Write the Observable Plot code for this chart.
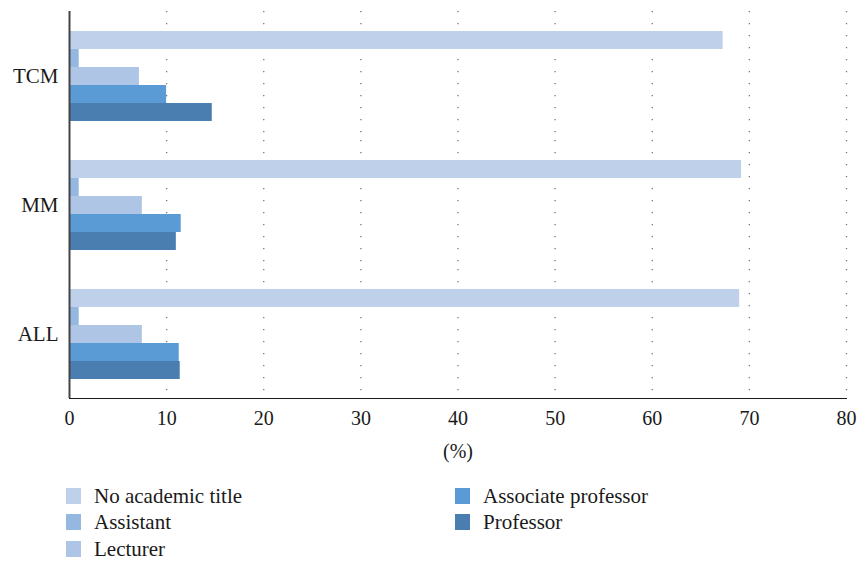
<!DOCTYPE html>
<html>
<head>
<meta charset="utf-8">
<script src="https://cdn.jsdelivr.net/npm/d3@7"></script>
<script src="https://cdn.jsdelivr.net/npm/@observablehq/plot@0.6"></script>
<style>
  html, body { margin: 0; padding: 0; background: #fff; }
  #wrap { position: relative; width: 857px; height: 562px; font-family: "Liberation Serif", "DejaVu Serif", serif; color: #1a1a1a; }
  .item { position: absolute; display: flex; align-items: center; font-size: 21px; white-space: nowrap; }
  .sw { width: 15px; height: 16px; margin-right: 13px; }
</style>
</head>
<body>
<div id="wrap"><div id="chart"></div><div id="legend"></div></div>
<script>
const groups = ["TCM", "MM", "ALL"];
const series = ["No academic title", "Assistant", "Lecturer", "Associate professor", "Professor"];
const colors = ["#BFD0EA", "#95B8E1", "#AEC5E6", "#5B9BD5", "#4A7EB1"];
const valuesTCM = [67.3, 1.0, 7.2, 10.0, 14.7];
const valuesMM = [69.2, 1.0, 7.5, 11.5, 11.0];
const valuesALL = [69.0, 1.0, 7.5, 11.3, 11.4];
const xTicks = [0, 10, 20, 30, 40, 50, 60, 70, 80];
const gridTicks = [10, 20, 30, 40, 50, 60, 70, 80];

const byGroup = {TCM: valuesTCM, MM: valuesMM, ALL: valuesALL};
const rows = groups.flatMap(g => series.map((s, i) => ({group: g, series: s, value: byGroup[g][i]})));

const chart = Plot.plot({
  width: 857,
  height: 470,
  marginLeft: 69,
  marginRight: 11,
  marginTop: 10,
  marginBottom: 72,
  style: {fontFamily: "'Liberation Serif', 'DejaVu Serif', serif", fontSize: "20px", color: "#1a1a1a", background: "#fff"},
  facet: {data: rows, y: "group", marginLeft: 0, marginRight: 0},
  fy: {domain: groups, axis: "left", label: null, tickSize: 0, tickPadding: 11, padding: 0},
  y: {domain: series, axis: null, paddingInner: 0, paddingOuter: 1.03},
  x: {domain: [0, 80], ticks: xTicks, tickSize: 0, tickPadding: 12, label: "(%)", labelArrow: "none", labelAnchor: "center", labelOffset: 59, line: true},
  color: {domain: series, range: colors},
  marks: [
    Plot.ruleX(gridTicks, {stroke: "#777", strokeWidth: 1.3, strokeDasharray: "1.3,10.7"}),
    Plot.barX(rows, {x: "value", y: "series", fill: "series"}),
    Plot.ruleX([0], {stroke: "#444", strokeWidth: 2})
  ]
});
document.getElementById("chart").appendChild(chart);

// remove any arrow left on the x label
chart.querySelectorAll("text").forEach(t => {
  if (t.textContent.includes("(%)")) t.textContent = "(%)";
});
chart.querySelectorAll("[aria-label='fy-axis tick label'] text, [aria-label='fy-axis'] text").forEach(t => {
  t.setAttribute("font-size", "21px");
});

const legend = document.getElementById("legend");
const pos = [[66, 489], [66, 515], [66, 542], [455, 489], [455, 515]];
series.forEach((s, i) => {
  const it = document.createElement("div");
  it.className = "item";
  it.style.left = pos[i][0] + "px";
  it.style.top = (pos[i][1] - 5) + "px";
  it.style.height = "24px";
  const sw = document.createElement("div");
  sw.className = "sw";
  sw.style.background = colors[i];
  const tx = document.createElement("span");
  tx.textContent = s;
  it.appendChild(sw);
  it.appendChild(tx);
  legend.appendChild(it);
});
</script>
</body>
</html>
